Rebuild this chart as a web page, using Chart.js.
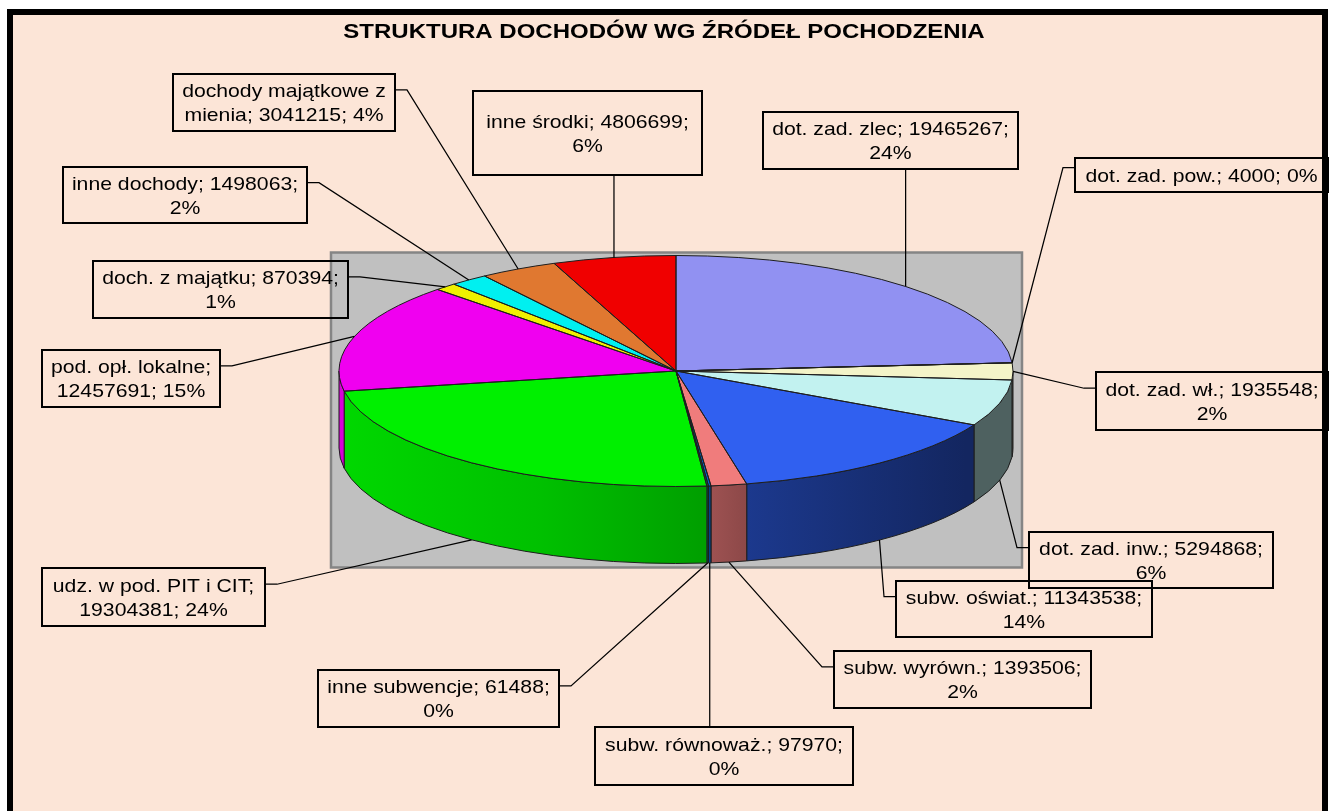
<!DOCTYPE html>
<html>
<head>
<meta charset="utf-8">
<script src="https://cdn.jsdelivr.net/npm/chart.js@4.4.0/dist/chart.umd.min.js"></script>
<style>
html, body { margin: 0; padding: 0; background: #fff; }
canvas { display: block; }
</style>
</head>
<body>
<canvas id="myChart" width="1333" height="811"></canvas>
<script>
var title = 'STRUKTURA DOCHODÓW WG ŹRÓDEŁ POCHODZENIA';

var categories = ['dot. zad. zlec', 'dot. zad. pow.', 'dot. zad. wł.', 'dot. zad. inw.',
    'subw. oświat.', 'subw. wyrówn.', 'subw. równoważ.', 'inne subwencje',
    'udz. w pod. PIT i CIT', 'pod. opł. lokalne', 'doch. z majątku', 'inne dochody',
    'dochody majątkowe z mienia', 'inne środki'];
var values = [19465267, 4000, 1935548, 5294868, 11343538, 1393506, 97970, 61488,
    19304381, 12457691, 870394, 1498063, 3041215, 4806699];
var colors = ['#9191F2', '#993366', '#F4F4C8', '#C2F2F0', '#3060F0', '#F07C7C', '#0066CC', '#008080',
    '#00F000', '#F000F0', '#F0F000', '#00F0F0', '#E07830', '#F00000'];

// label boxes placed by hand, as in the original: [left, top, right, bottom]
var boxes = [[763, 112, 1018, 169], [1075, 158, 1328, 192], [1096, 372, 1328, 430], [1029, 532, 1273, 588],
    [896, 581, 1152, 637], [834, 651, 1091, 708], [595, 727, 853, 785], [318, 670, 559, 727],
    [42, 568, 265, 626], [42, 350, 220, 407], [93, 261, 348, 318], [63, 167, 307, 223],
    [173, 74, 395, 131], [473, 91, 702, 175]];

var DEPTH = 77;      // height of the pie wall
var TILT = 0.3427;   // vertical squash of the top face
var FONT = '"Liberation Sans", Arial, sans-serif';
var SX = 1.115;      // text is a bit wider than normal in the picture

var total = values.reduce(function (a, b) { return a + b; }, 0);

function shade(hex, f) {
    var n = parseInt(hex.slice(1), 16);
    var r = Math.round(((n >> 16) & 255) * f), g = Math.round(((n >> 8) & 255) * f), b = Math.round((n & 255) * f);
    return 'rgb(' + r + ',' + g + ',' + b + ')';
}

function stretched(c, text, x, y, sx) {
    c.save();
    c.translate(x, y);
    c.scale(sx, 1);
    c.fillText(text, 0, 0);
    c.restore();
}

function wrap(c, text, maxW) {
    var words = text.split(' '), lines = [], cur = '';
    words.forEach(function (w) {
        var t = cur ? cur + ' ' + w : w;
        if (cur && c.measureText(t).width * SX > maxW) { lines.push(cur); cur = w; } else { cur = t; }
    });
    lines.push(cur);
    return lines;
}

// light on the left side of the wall, dark on the right
var wallStops = [[0, 0.9], [0.3, 0.8], [0.55, 0.66], [0.6, 0.59], [0.93, 0.4], [1, 0.4]];

var pie3d = {
    id: 'pie3d',
    beforeDraw: function (chart) {
        var c = chart.ctx, a = chart.getDatasetMeta(0).data[0];
        var r = a.outerRadius, ry = r * TILT;
        c.save();
        c.fillStyle = '#ffffff';
        c.fillRect(0, 0, chart.width, chart.height);
        c.fillStyle = '#FCE5D7';
        c.fillRect(10, 12, 1315, 840);
        var px0 = a.x - r - 8, px1 = a.x + r + 9, py0 = a.y - ry - 3, py1 = a.y + ry + DEPTH + 4;
        c.fillStyle = '#C0C0C0';
        c.fillRect(px0, py0, px1 - px0, py1 - py0);
        c.lineWidth = 2.5;
        c.strokeStyle = '#858585';
        c.strokeRect(px0, py0, px1 - px0, py1 - py0);
        c.fillStyle = '#000';
        c.font = 'bold 21px ' + FONT;
        c.textAlign = 'center';
        c.textBaseline = 'alphabetic';
        stretched(c, title, 664, 37.5, 1.143);
        c.restore();
    },
    beforeDatasetsDraw: function (chart) {
        var c = chart.ctx, arcs = chart.getDatasetMeta(0).data;
        c.save();
        arcs.forEach(function (arc, i) {
            var cx = arc.x, cy = arc.y, r = arc.outerRadius, ry = r * TILT;
            var a0 = Math.max(arc.startAngle, 0), a1 = Math.min(arc.endAngle, Math.PI);
            if (a1 <= a0) return;
            var g = c.createLinearGradient(cx - r, 0, cx + r, 0);
            wallStops.forEach(function (s) { g.addColorStop(s[0], shade(colors[i], s[1])); });
            c.beginPath();
            c.ellipse(cx, cy, r, ry, 0, a0, a1, false);
            c.ellipse(cx, cy + DEPTH, r, ry, 0, a1, a0, true);
            c.closePath();
            c.fillStyle = g;
            c.fill();
            c.lineWidth = 1;
            c.strokeStyle = '#1e1e1e';
            c.stroke();
        });
        c.restore();
        // squash the flat pie into the tilted top face
        var cy0 = arcs[0].y;
        c.save();
        c.translate(0, cy0);
        c.scale(1, TILT);
        c.translate(0, -cy0);
    },
    afterDatasetsDraw: function (chart) {
        var c = chart.ctx, arcs = chart.getDatasetMeta(0).data;
        c.restore();
        c.save();
        c.lineWidth = 1;
        c.strokeStyle = '#1e1e1e';
        arcs.forEach(function (arc) {
            c.beginPath();
            c.moveTo(arc.x, arc.y);
            c.ellipse(arc.x, arc.y, arc.outerRadius, arc.outerRadius * TILT, 0, arc.startAngle, arc.endAngle, false);
            c.closePath();
            c.stroke();
        });

        // data labels with leader lines
        c.font = '19px ' + FONT;
        c.textAlign = 'center';
        c.textBaseline = 'alphabetic';
        arcs.forEach(function (arc, i) {
            var r = arc.outerRadius, mid = (arc.startAngle + arc.endAngle) / 2;
            var ax = arc.x + r * Math.cos(mid), ay = arc.y + r * TILT * Math.sin(mid);
            if (Math.sin(mid) > 0.1) ay += DEPTH;
            var b = boxes[i], L = b[0], T = b[1], R = b[2], B = b[3], h = B - T;

            c.strokeStyle = '#000';
            c.lineWidth = 1.25;
            c.beginPath();
            c.moveTo(ax, ay);
            if (ax >= L && ax <= R) {
                c.lineTo(ax, B < ay ? B : T);
            } else if ((L + R) / 2 < ax) {
                c.lineTo(R + 12, T + h * 0.28);
                c.lineTo(R, T + h * 0.28);
            } else {
                c.lineTo(L - 12, T + h * 0.28);
                c.lineTo(L, T + h * 0.28);
            }
            c.stroke();

            c.lineWidth = 2;
            c.strokeRect(L, T, R - L, h);

            var pct = Math.round(values[i] / total * 100);
            var lines = wrap(c, categories[i] + '; ' + values[i] + '; ' + pct + '%', R - L - 6);
            var mx = (L + R) / 2, my = (T + B) / 2, lh = 24;
            c.fillStyle = '#000';
            lines.forEach(function (ln, k) {
                var y = my + (k - (lines.length - 1) / 2) * lh + 6.7;
                stretched(c, ln, mx, y, SX);
            });
        });
        c.restore();
    },
    afterDraw: function (chart) {
        var c = chart.ctx;
        c.save();
        c.lineWidth = 6;
        c.strokeStyle = '#000';
        c.strokeRect(10, 12, 1315, 840);
        c.restore();
    }
};

var ctx = document.getElementById('myChart').getContext('2d');
var chart = new Chart(ctx, {
    type: 'pie',
    data: {
        labels: categories,
        datasets: [{
            data: values,
            backgroundColor: colors,
            borderWidth: 0,
            clip: false
        }]
    },
    options: {
        responsive: false,
        animation: false,
        devicePixelRatio: 1,
        events: [],
        layout: { padding: { left: 339, right: 320, top: 34, bottom: 103 } },
        plugins: {
            legend: { display: false },
            tooltip: { enabled: false },
            title: { display: false }
        }
    },
    plugins: [pie3d]
});
</script>
</body>
</html>
